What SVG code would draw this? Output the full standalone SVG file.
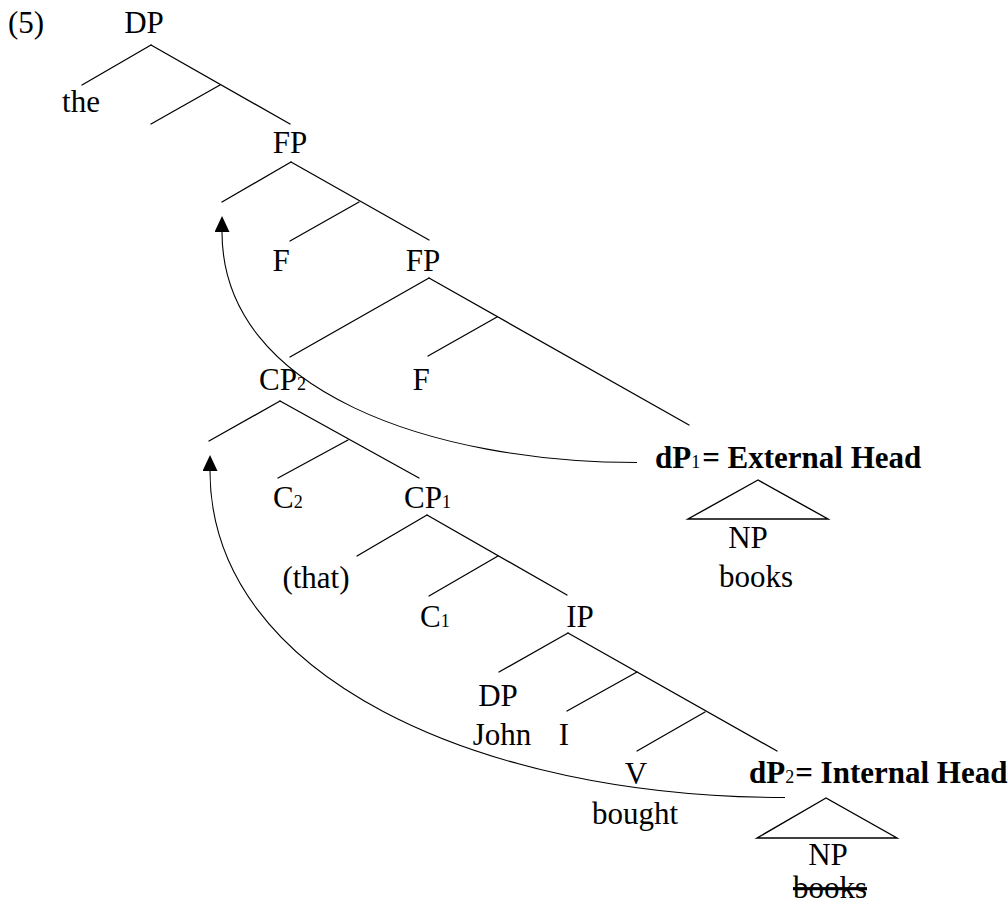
<svg xmlns="http://www.w3.org/2000/svg" width="1008" height="906" viewBox="0 0 1008 906">
<style>
text{font-family:"Liberation Serif","Times New Roman",serif;font-size:31px;fill:#000}
.c{text-anchor:middle}
.b{font-weight:bold}
.s{font-size:18px;font-weight:normal}
.ln{stroke:#000;stroke-width:1.3;fill:none;stroke-linecap:round}
.cv{stroke:#000;stroke-width:1.1;fill:none}
.tri{stroke:#000;stroke-width:1.4;fill:none;stroke-linejoin:miter}
</style>
<defs>
<marker id="ah" viewBox="0 0 16 15" markerUnits="userSpaceOnUse" markerWidth="16" markerHeight="15" refX="0" refY="7.5" orient="auto">
<path d="M0,0 L16,7.5 L0,15 Z" fill="#000"/>
</marker>
</defs>
<rect width="1008" height="906" fill="#fff"/>
<g id="label5"><text x="8" y="33">(5)</text></g>
<g id="DP-top"><text class="c" x="144" y="33">DP</text></g>
<g id="the"><text class="c" x="81" y="112">the</text></g>
<g id="FP1"><text class="c" x="290" y="153">FP</text></g>
<g id="F1"><text class="c" x="281" y="271">F</text></g>
<g id="FP2"><text class="c" x="423" y="271">FP</text></g>
<g id="CP2"><text x="259" y="390">CP<tspan class="s">2</tspan></text></g>
<g id="F2"><text class="c" x="421" y="390">F</text></g>
<g id="C2"><text x="273" y="508">C<tspan class="s">2</tspan></text></g>
<g id="CP1"><text x="404" y="508">CP<tspan class="s">1</tspan></text></g>
<g id="that"><text class="c" x="316" y="588">(that)</text></g>
<g id="C1"><text x="420" y="627">C<tspan class="s">1</tspan></text></g>
<g id="IP"><text class="c" x="580" y="627">IP</text></g>
<g id="DP-john"><text class="c" x="498" y="706">DP</text><text class="c" x="502" y="745">John</text></g>
<g id="I"><text class="c" x="564" y="745">I</text></g>
<g id="V"><text class="c" x="636" y="784">V</text><text class="c" x="635" y="824">bought</text></g>
<g id="dP1"><text class="b" x="655" y="468">dP<tspan class="s">1</tspan><tspan dx="2">= External Head</tspan></text>
<polygon class="tri" points="758,480 688,519 828,519"/>
<text class="c" x="748" y="548">NP</text><text class="c" x="756" y="587">books</text></g>
<g id="dP2"><text class="b" x="749" y="783">dP<tspan class="s">2</tspan><tspan dx="1">= Internal Head</tspan></text>
<polygon class="tri" points="826,798 757,838 897,838"/>
<text class="c" x="828" y="865">NP</text><text class="c" x="830" y="898" text-decoration="line-through">books</text></g>
<g id="connectors">
<line class="ln" x1="151" y1="45" x2="82" y2="85"/>
<line class="ln" x1="151" y1="45" x2="290" y2="124"/>
<line class="ln" x1="220" y1="85" x2="151" y2="124"/>
<line class="ln" x1="291" y1="162" x2="222" y2="202"/>
<line class="ln" x1="291" y1="162" x2="429" y2="240"/>
<line class="ln" x1="359" y1="202" x2="290" y2="241"/>
<line class="ln" x1="429" y1="278" x2="290" y2="357"/>
<line class="ln" x1="429" y1="278" x2="689" y2="425"/>
<line class="ln" x1="497" y1="317" x2="428" y2="356"/>
<line class="ln" x1="280" y1="401" x2="209" y2="441"/>
<line class="ln" x1="280" y1="401" x2="419" y2="478"/>
<line class="ln" x1="348" y1="440" x2="278" y2="478"/>
<line class="ln" x1="427" y1="515" x2="357" y2="556"/>
<line class="ln" x1="427" y1="515" x2="567" y2="595"/>
<line class="ln" x1="498" y1="556" x2="429" y2="596"/>
<line class="ln" x1="568" y1="633" x2="499" y2="672"/>
<line class="ln" x1="568" y1="633" x2="777" y2="751"/>
<line class="ln" x1="637" y1="672" x2="567" y2="711"/>
<line class="ln" x1="705" y1="712" x2="637" y2="751"/>
<path class="cv" d="M637,462.5 C435,462.5 222,393 222,232" marker-end="url(#ah)"/>
<path class="cv" d="M785,797.5 C480,797.5 210,677 210,471" marker-end="url(#ah)"/>
</g>
</svg>
